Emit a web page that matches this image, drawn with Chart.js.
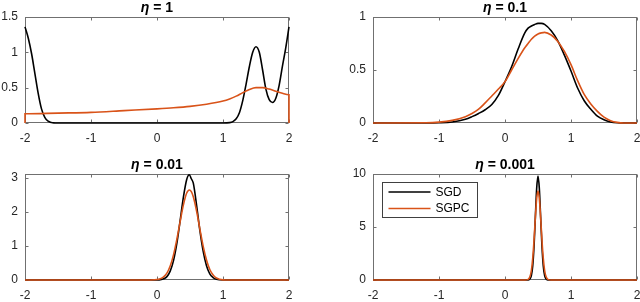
<!DOCTYPE html>
<html><head><meta charset="utf-8">
<script src="https://cdn.jsdelivr.net/npm/chart.js@4/dist/chart.umd.min.js"></script>
<style>
html,body{margin:0;padding:0;background:#fff;}
#wrap{position:relative;width:640px;height:302px;overflow:hidden;background:#fff;}
canvas{position:absolute;}
</style></head><body>
<div id="wrap">
<canvas id="c1" width="320" height="151" style="left:0;top:0"></canvas>
<canvas id="c2" width="292" height="151" style="left:348px;top:0"></canvas>
<canvas id="c3" width="320" height="145" style="left:0;top:157px"></canvas>
<canvas id="c4" width="292" height="145" style="left:348px;top:157px"></canvas>
</div>
<script>
// ---- data ----
const etaValues = ['1', '0.1', '0.01', '0.001'];
const seriesNames = ['SGD', 'SGPC'];
const xTicks = [-2, -1, 0, 1, 2];
const yTicks1 = [0, 0.5, 1, 1.5];
const yTicks2 = [0, 0.5, 1];
const yTicks3 = [0, 1, 2, 3];
const yTicks4 = [0, 5, 10];
const yMax = [1.5, 1, 3.12, 10];

// eta = 1
const x1Sgd  = [-2,-1.95,-1.9,-1.85,-1.8,-1.75,-1.7,-1.65,-1.6,-1.55,-1.5,1.0,1.1,1.15,1.2,1.25,1.3,1.35,1.4,1.45,1.5,1.55,1.6,1.65,1.7,1.75,1.8,1.85,1.9,1.95,2.0];
const y1Sgd  = [1.36,1.2,0.98,0.7,0.42,0.2,0.08,0.025,0.006,0.001,0,0,0.005,0.02,0.06,0.15,0.32,0.55,0.8,1.0,1.08,1.0,0.75,0.48,0.33,0.29,0.35,0.53,0.8,1.06,1.36];
const x1Sgpc = [-2,-2,-1.5,-1,-0.5,0,0.25,0.5,0.75,1,1.1,1.2,1.3,1.4,1.5,1.6,1.7,1.8,1.9,2,2];
const y1Sgpc = [0,0.13,0.14,0.15,0.175,0.2,0.215,0.235,0.265,0.31,0.34,0.38,0.43,0.475,0.5,0.5,0.48,0.45,0.42,0.4,0];

// eta = 0.1
const x2     = [-2,-1.2,-1,-0.8,-0.6,-0.5,-0.4,-0.3,-0.2,-0.1,0,0.1,0.2,0.3,0.35,0.4,0.45,0.5,0.55,0.6,0.7,0.8,0.9,1.0,1.1,1.2,1.3,1.4,1.5,1.6,1.7,1.8,2];
const y2Sgd  = [0,0,0.002,0.01,0.035,0.06,0.09,0.125,0.175,0.26,0.39,0.53,0.7,0.85,0.895,0.915,0.93,0.94,0.94,0.93,0.87,0.775,0.64,0.49,0.33,0.21,0.13,0.065,0.03,0.01,0.002,0,0];
const y2Sgpc = [0,0.002,0.008,0.025,0.06,0.09,0.13,0.19,0.255,0.32,0.39,0.5,0.61,0.71,0.75,0.79,0.82,0.84,0.85,0.855,0.83,0.77,0.675,0.55,0.4,0.27,0.18,0.11,0.055,0.022,0.006,0,0];

// eta = 0.01
const x3     = [-2,-0.1,0,0.05,0.1,0.15,0.2,0.25,0.3,0.35,0.4,0.45,0.49,0.52,0.55,0.6,0.65,0.7,0.75,0.8,0.85,0.9,1.0,1.1,2];
const y3Sgd  = [0,0,0.003,0.01,0.035,0.1,0.26,0.57,1.07,1.74,2.44,2.96,3.1,2.98,2.85,2.2,1.45,0.84,0.42,0.18,0.07,0.02,0,0,0];
const y3Sgpc = [0,0.002,0.013,0.036,0.09,0.2,0.41,0.74,1.19,1.71,2.21,2.56,2.65,2.6,2.45,2.03,1.5,0.99,0.59,0.31,0.15,0.06,0.005,0,0];

// eta = 0.001
const x4     = [-2,0.3,0.35,0.38,0.4,0.42,0.44,0.46,0.48,0.5,0.52,0.54,0.56,0.58,0.6,0.62,0.65,0.7,2];
const y4Sgd  = [0,0,0.009,0.11,0.43,1.33,3.18,5.94,8.65,9.8,8.65,5.94,3.18,1.33,0.43,0.11,0.009,0,0];
const y4Sgpc = [0,0.001,0.06,0.35,0.92,2.04,3.78,5.9,7.69,8.4,7.69,5.9,3.78,2.04,0.92,0.35,0.06,0.001,0];

// ---- styling ----
const COLORS = ['#000000', '#D95319'];
const AXIS = '#707070';
const TXT = '#262626';
const FONT = "'Liberation Sans', Arial, Helvetica, sans-serif";

const pts = (xs, ys) => xs.map((v, i) => ({x: v, y: ys[i]}));

const boxPlugin = {
  id: 'matBox',
  beforeDatasetsDraw(chart) {
    const {ctx, chartArea: a, scales: {x, y}} = chart;
    const L = Math.round(a.left) + 0.5, R = Math.round(a.right) - 0.5;
    const T = Math.round(a.top) + 0.5, B = Math.round(a.bottom) - 0.5;
    ctx.save();
    ctx.strokeStyle = AXIS; ctx.lineWidth = 1;
    ctx.strokeRect(L, T, R - L, B - T);
    const tl = 3;
    ctx.beginPath();
    x.ticks.forEach(t => {
      const px = Math.round(x.getPixelForValue(t.value)) + 0.5;
      ctx.moveTo(px, B); ctx.lineTo(px, B - tl);
      ctx.moveTo(px, T); ctx.lineTo(px, T + tl);
    });
    y.ticks.forEach(t => {
      const py = Math.round(y.getPixelForValue(t.value)) + 0.5;
      ctx.moveTo(L, py); ctx.lineTo(L + tl, py);
      ctx.moveTo(R, py); ctx.lineTo(R - tl, py);
    });
    ctx.stroke();
    ctx.restore();
  },
  afterDraw(chart) {
    const o = chart.options.plugins.matBox || {};
    const {ctx, chartArea: a} = chart;
    ctx.save();
    // title
    if (o.eta) {
      const f1 = "italic bold 14px " + FONT, f2 = "bold 14px " + FONT;
      const s1 = '\u03B7', s2 = ' = ' + o.eta;
      ctx.font = f1; const w1 = ctx.measureText(s1).width;
      ctx.font = f2; const w2 = ctx.measureText(s2).width;
      const cx = (a.left + a.right) / 2, cy = a.top - 8.5;
      let sx = cx - (w1 + w2) / 2;
      ctx.fillStyle = '#000'; ctx.textBaseline = 'middle'; ctx.textAlign = 'left';
      ctx.font = f1; ctx.fillText(s1, sx, cy);
      ctx.font = f2; ctx.fillText(s2, sx + w1, cy);
    }
    // legend
    if (o.legend) {
      const bx = Math.round(a.left) + 9.5, by = Math.round(a.top) + 8.5, bw = 95, bh = 35;
      ctx.fillStyle = '#fff'; ctx.fillRect(bx, by, bw, bh);
      ctx.strokeStyle = '#404040'; ctx.lineWidth = 1; ctx.strokeRect(bx, by, bw, bh);
      chart.data.datasets.forEach((ds, i) => {
        const ry = by + 9.5 + i * 16.5;
        ctx.strokeStyle = ds.borderColor; ctx.lineWidth = 1.6;
        ctx.beginPath(); ctx.moveTo(bx + 6, ry); ctx.lineTo(bx + 48, ry); ctx.stroke();
        ctx.fillStyle = '#000'; ctx.font = "12px " + FONT; ctx.textBaseline = 'middle'; ctx.textAlign = 'left';
        ctx.fillText(ds.label, bx + 53, ry + 0.5);
      });
    }
    ctx.restore();
  }
};

function makeChart(id, idx, sgdPts, sgpcPts, yT, legend) {
  const cv = document.getElementById(id);
  const W = cv.width, H = cv.height;
  return new Chart(cv, {
    type: 'line',
    data: {
      datasets: [
        {label: seriesNames[0], data: sgdPts, borderColor: COLORS[0], order: 1},
        {label: seriesNames[1], data: sgpcPts, borderColor: COLORS[1], order: 0}
      ]
    },
    plugins: [boxPlugin],
    options: {
      responsive: false, animation: false, devicePixelRatio: 1,
      layout: {padding: {top: 17, left: 0, right: W - 289, bottom: 0}},
      parsing: false, normalized: true,
      plugins: {legend: {display: false}, title: {display: false}, tooltip: {enabled: false},
                matBox: {eta: etaValues[idx], legend: legend}},
      elements: {point: {radius: 0}, line: {borderWidth: 1.6, cubicInterpolationMode: 'monotone', fill: false}},
      datasets: {line: {clip: 3}},
      scales: {
        x: {
          type: 'linear', min: -2, max: 2,
          grid: {display: false, drawTicks: false}, border: {display: false},
          afterBuildTicks: s => { s.ticks = xTicks.map(v => ({value: v})); },
          ticks: {padding: 8, color: TXT, font: {family: FONT, size: 12}, maxRotation: 0, autoSkip: false,
                  callback: v => String(v)},
          afterFit: s => { s.height = H - 123; s.paddingLeft = 0; s.paddingRight = 0; }
        },
        y: {
          type: 'linear', min: 0, max: yMax[idx],
          grid: {display: false, drawTicks: false}, border: {display: false},
          afterBuildTicks: s => { s.ticks = yT.map(v => ({value: v})); },
          ticks: {padding: 7, color: TXT, font: {family: FONT, size: 12}, autoSkip: false,
                  callback: v => String(v)},
          afterFit: s => { s.width = 25; s.paddingTop = 0; s.paddingBottom = 0; }
        }
      }
    }
  });
}

makeChart('c1', 0, pts(x1Sgd, y1Sgd), pts(x1Sgpc, y1Sgpc), yTicks1, false);
makeChart('c2', 1, pts(x2, y2Sgd), pts(x2, y2Sgpc), yTicks2, false);
makeChart('c3', 2, pts(x3, y3Sgd), pts(x3, y3Sgpc), yTicks3, false);
makeChart('c4', 3, pts(x4, y4Sgd), pts(x4, y4Sgpc), yTicks4, true);
</script>
</body></html>
